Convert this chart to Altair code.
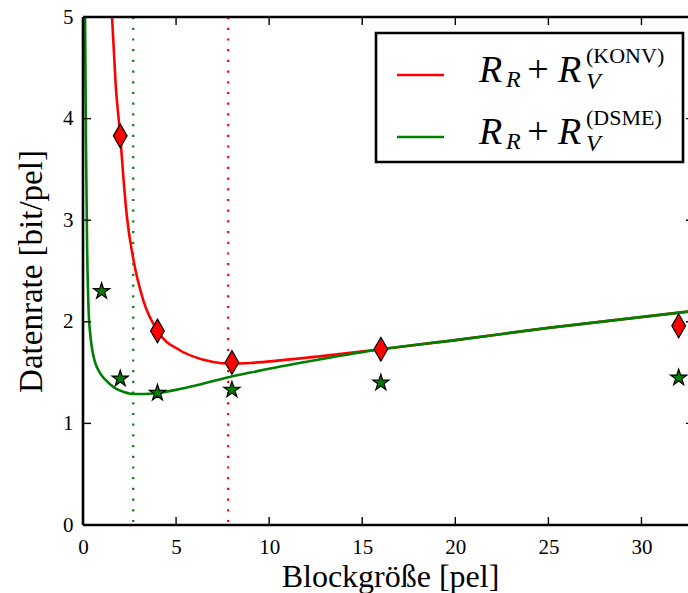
import altair as alt
import pandas as pd

# ---- data ----
red_pts_x = [2, 4, 8, 16, 32]
red_pts_y = [3.83, 1.91, 1.60, 1.73, 1.96]
green_pts_x = [1, 2, 4, 8, 16, 32]
green_pts_y = [2.30, 1.44, 1.30, 1.33, 1.40, 1.45]

red_curve_x = [1.56, 1.75, 2.0, 2.17, 2.35, 2.7, 3.24, 4.0, 5.2, 5.9, 7.0, 7.8,
               9.0, 10.6, 12.7, 16, 20, 25, 32.5]
red_curve_y = [5.0, 4.35, 3.83, 3.42, 3.05, 2.62, 2.21, 1.91, 1.72, 1.66, 1.605, 1.59,
               1.595, 1.62, 1.66, 1.73, 1.82, 1.94, 2.10]
green_curve_x = [0.11, 0.16, 0.22, 0.3, 0.4, 0.5, 0.65, 0.9, 1.2, 1.7, 2.2, 2.7, 3.3, 4.0,
                 5.0, 6.0, 7.7, 9.0, 10.6, 12.7, 16, 20, 25, 32.5]
green_curve_y = [5.0, 3.75, 2.75, 2.12, 1.86, 1.72, 1.60, 1.50, 1.43, 1.35, 1.31, 1.29, 1.29, 1.30,
                 1.33, 1.37, 1.45, 1.50, 1.56, 1.63, 1.73, 1.82, 1.94, 2.10]

red_opt_x = [7.8]
green_opt_x = [2.7]

x_ticks = [0, 5, 10, 15, 20, 25, 30]
y_ticks = [0, 1, 2, 3, 4, 5]
x_minor_ticks = [5, 10, 15, 20, 25, 30]
y_minor_ticks = [1, 2, 3, 4]

legend_labels = ["(KONV)", "(DSME)"]

RED = "#ff0000"
GREEN = "#008000"
FONT = "Liberation Serif"
W, H = 605, 508

X = alt.X("x:Q", scale=alt.Scale(domain=[0, 32.5], nice=False, zero=False),
          axis=alt.Axis(values=x_ticks, format="d", domain=False, ticks=False, grid=False,
                        labelFont=FONT, labelFontSize=21, labelColor="black",
                        labelPadding=11, labelFlush=False, labelOverlap=False,
                        title="Blockgröße [pel]", titleFont=FONT, titleFontSize=32,
                        titleFontWeight="normal", titleColor="black",
                        titleX=307, titleY=61, titleBaseline="alphabetic"))
Y = alt.Y("y:Q", scale=alt.Scale(domain=[0, 5], nice=False, zero=False),
          axis=alt.Axis(values=y_ticks, format="d", domain=False, ticks=False, grid=False,
                        labelFont=FONT, labelFontSize=21, labelColor="black",
                        labelPadding=10, labelOverlap=False,
                        title="Datenrate [bit/pel]", titleFont=FONT, titleFontSize=33,
                        titleFontWeight="normal", titleColor="black",
                        titleX=-42, titleY=254, titleAngle=270,
                        titleBaseline="alphabetic", titleAlign="center"))

red_curve = pd.DataFrame({"x": red_curve_x, "y": red_curve_y})
green_curve = pd.DataFrame({"x": green_curve_x, "y": green_curve_y})
red_pts = pd.DataFrame({"x": red_pts_x, "y": red_pts_y})
green_pts = pd.DataFrame({"x": green_pts_x, "y": green_pts_y})
one = pd.DataFrame({"a": [0]})

layers = []

# vertical dotted optimum lines
layers.append(alt.Chart(pd.DataFrame({"x": green_opt_x})).mark_rule(
    color=GREEN, strokeWidth=2.2, strokeDash=[2.2, 8.5]).encode(x=X))
layers.append(alt.Chart(pd.DataFrame({"x": red_opt_x})).mark_rule(
    color=RED, strokeWidth=2.2, strokeDash=[2.2, 8.5]).encode(x=X))

# curves
layers.append(alt.Chart(red_curve).mark_line(
    color=RED, strokeWidth=2.6, interpolate="monotone", clip=True).encode(x=X, y=Y))
layers.append(alt.Chart(green_curve).mark_line(
    color=GREEN, strokeWidth=2.6, interpolate="monotone", clip=True).encode(x=X, y=Y))

# markers
DIAMOND = "M0,-1L0.58,0L0,1L-0.58,0Z"
STAR = ("M0,-1L0.2245,-0.309L0.9511,-0.309L0.3633,0.118L0.5878,0.809L0,0.382"
        "L-0.5878,0.809L-0.3633,0.118L-0.9511,-0.309L-0.2245,-0.309Z")
layers.append(alt.Chart(red_pts).mark_point(
    shape=DIAMOND, size=560, filled=True, fill=RED, stroke="black", strokeWidth=1.2,
    opacity=1).encode(x=X, y=Y))
layers.append(alt.Chart(green_pts).mark_point(
    shape=STAR, size=290, filled=True, fill=GREEN, stroke="black", strokeWidth=1.2,
    opacity=1).encode(x=X, y=Y))

# frame (left, bottom, top)
layers.append(alt.Chart(one).mark_rule(color="black", strokeWidth=2.6).encode(
    x=alt.value(0), y=alt.value(0), y2=alt.value(H)))
layers.append(alt.Chart(one).mark_rule(color="black", strokeWidth=2.6).encode(
    x=alt.value(0), x2=alt.value(W), y=alt.value(H)))
layers.append(alt.Chart(one).mark_rule(color="black", strokeWidth=2.6).encode(
    x=alt.value(0), x2=alt.value(W), y=alt.value(0)))

# inward ticks
xt = pd.DataFrame({"x": x_minor_ticks})
yt = pd.DataFrame({"y": y_minor_ticks})
layers.append(alt.Chart(xt).mark_rule(color="black", strokeWidth=1.4).encode(
    x=X, y=alt.value(H - 8), y2=alt.value(H)))
layers.append(alt.Chart(xt).mark_rule(color="black", strokeWidth=1.4).encode(
    x=X, y=alt.value(0), y2=alt.value(8)))
layers.append(alt.Chart(yt).mark_rule(color="black", strokeWidth=1.4).encode(
    y=Y, x=alt.value(0), x2=alt.value(8)))
layers.append(alt.Chart(yt).mark_rule(color="black", strokeWidth=1.4).encode(
    y=Y, x=alt.value(W - 2), x2=alt.value(W)))

# legend box
layers.append(alt.Chart(one).mark_rect(fill="white", stroke="black", strokeWidth=2.6).encode(
    x=alt.value(293), x2=alt.value(600), y=alt.value(16), y2=alt.value(145)))

def txt(s, x, y, size, italic=False, align="left"):
    return alt.Chart(one).mark_text(
        text=s, font=FONT, fontSize=size, fontStyle="italic" if italic else "normal",
        align=align, baseline="alphabetic", color="black").encode(
        x=alt.value(x), y=alt.value(y))

for i, (col, lab) in enumerate(zip([RED, GREEN], legend_labels)):
    dy = i * 62
    layers.append(alt.Chart(one).mark_rule(color=col, strokeWidth=2.6).encode(
        x=alt.value(314), x2=alt.value(361), y=alt.value(58 + dy)))
    layers.append(txt("R", 396, 65 + dy, 38, True))
    layers.append(txt("R", 423, 70 + dy, 24, True))
    layers.append(txt("+", 455, 65 + dy, 38, False, "center"))
    layers.append(txt("R", 475, 65 + dy, 38, True))
    layers.append(txt(lab, 503, 46 + dy, 22, False))
    layers.append(txt("V", 503, 72 + dy, 24, True))

chart = alt.layer(*layers).properties(
    width=W, height=H,
    autosize=alt.AutoSizeParams(type="none"),
    padding={"left": 83, "top": 17, "right": 0, "bottom": 68},
).configure_view(stroke=None)

chart.save("out.html", embed_options={"renderer": "svg", "actions": False})
